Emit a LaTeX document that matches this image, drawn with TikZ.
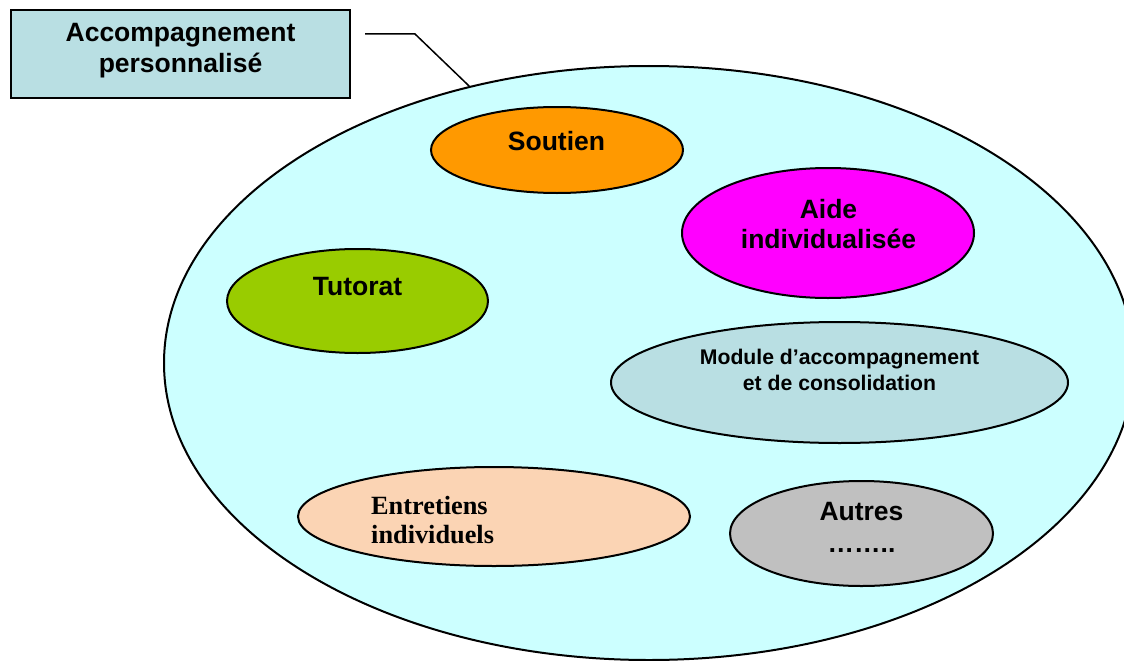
\documentclass[tikz,border=0pt]{standalone}
\usepackage{fontspec}
\setmainfont{Liberation Sans}
\newfontfamily\serifface{Liberation Serif}
\usetikzlibrary{shapes.geometric}
\definecolor{bigfill}{HTML}{CCFFFF}
\definecolor{boxfill}{HTML}{B9DFE3}
\definecolor{soutienfill}{HTML}{FF9900}
\definecolor{aidefill}{HTML}{FF00FF}
\definecolor{tutoratfill}{HTML}{99CC00}
\definecolor{entretiensfill}{HTML}{FBD4B4}
\definecolor{autresfill}{HTML}{C0C0C0}
\begin{document}
\begin{tikzpicture}[x=1pt,y=-1pt,
  oval/.style={ellipse, draw=black, line width=2pt, inner sep=0pt},
  lbl/.style={font=\bfseries\fontsize{26.5}{30}\selectfont, align=center, anchor=base, inner sep=0pt},
  smalllbl/.style={font=\bfseries\fontsize{21.2}{26}\selectfont, align=center, anchor=base, inner sep=0pt},
  seriflbl/.style={font=\serifface\bfseries\fontsize{26.3}{29}\selectfont, align=left, anchor=base west, inner sep=0pt},
  leader/.style={draw=black, line width=1.5pt}]
\useasboundingbox (0,0) rectangle (1124,661);
\begin{scope}
  \clip (0,0) rectangle (1124,661);
  \node[oval, fill=bigfill, minimum width=970pt, minimum height=594pt] (big) at (649,363) {};
\end{scope}
% title box
\node[draw=black, line width=2pt, fill=boxfill, minimum width=339pt, minimum height=88pt, inner sep=0pt] (box) at (180.5,54) {};
\node[lbl] (boxT) at (180.5,72) {Accompagnement\\personnalisé};
% leader line
\coordinate (l0) at (365,34);
\coordinate (l1) at (415,34);
\draw[leader] (l0) -- (l1) -- (big.123.3);
% inner ovals
\node[oval, fill=soutienfill, minimum width=252pt, minimum height=86pt] (soutien) at (557,150) {};
\node[lbl] (soutienT) at (556.5,150) {Soutien};
\node[oval, fill=aidefill, minimum width=292pt, minimum height=130pt] (aide) at (828,233) {};
\node[lbl] (aideT) at (828.5,248) {Aide\\individualisée};
\node[oval, fill=tutoratfill, minimum width=261pt, minimum height=104pt] (tutorat) at (357.5,301) {};
\node[lbl] (tutoratT) at (357.5,295) {Tutorat};
\node[oval, fill=boxfill, minimum width=457pt, minimum height=121pt] (module) at (839.5,382.5) {};
\node[smalllbl] (moduleT) at (839.5,390) {Module d’accompagnement\\et de consolidation};
\node[oval, fill=entretiensfill, minimum width=392pt, minimum height=99pt] (entretiens) at (494,516.5) {};
\node[seriflbl] (entretiensT) at (371,543) {Entretiens\\individuels};
\node[oval, fill=autresfill, minimum width=263pt, minimum height=105pt] (autres) at (861.5,533.5) {};
\node[lbl, font=\bfseries\fontsize{26.5}{32}\selectfont] (autresT) at (861.5,552) {Autres\\……..};
\end{tikzpicture}
\end{document}
